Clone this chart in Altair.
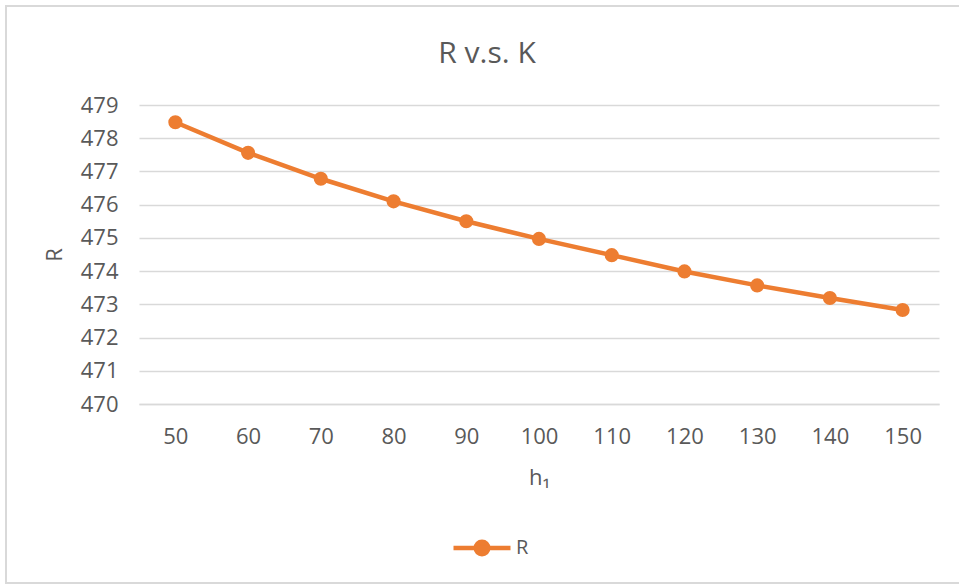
import altair as alt
import pandas as pd

h_values = [50, 60, 70, 80, 90, 100, 110, 120, 130, 140, 150]
r_values = [478.48, 477.56, 476.78, 476.10, 475.50, 474.97, 474.48, 473.99, 473.57, 473.19, 472.83]
series_name = ["R"] * len(h_values)
y_ticks = [470, 471, 472, 473, 474, 475, 476, 477, 478, 479]

df = pd.DataFrame({"h": h_values, "R": r_values, "series": series_name})

FONT = "Open Sans"
GREY = "#595959"
ORANGE = "#ED7D31"

frame = alt.Chart(pd.DataFrame({"k": [0]})).mark_rect(
    fill=None, stroke="#d9d9d9", strokeWidth=2, clip=False
).encode(
    x=alt.value(-133), x2=alt.value(824), y=alt.value(-99), y2=alt.value(478)
)

legend_symbol = "M-1,0H1M-0.22,0A0.22,0.22 0 1,1 0.22,0A0.22,0.22 0 1,1 -0.22,0Z"

line = alt.Chart(df).mark_line(
    strokeWidth=4.5,
    point=alt.OverlayMarkDef(filled=True, size=200, color=ORANGE, opacity=1),
).encode(
    x=alt.X(
        "h:O",
        scale=alt.Scale(type="point", padding=0.5),
        axis=alt.Axis(
            title="h₁",
            labelAngle=0,
            ticks=False,
            domain=True,
            domainColor="#d9d9d9",
            domainWidth=1.5,
            labelPadding=22,
            titlePadding=20,
            grid=False,
        ),
    ),
    y=alt.Y(
        "R:Q",
        scale=alt.Scale(domain=[470, 479], nice=False, zero=False),
        axis=alt.Axis(
            title="R",
            values=y_ticks,
            ticks=False,
            domain=False,
            labelPadding=21,
            titlePadding=14,
            gridColor="#d9d9d9",
            gridWidth=1.5,
        ),
    ),
    color=alt.Color(
        "series:N",
        scale=alt.Scale(range=[ORANGE]),
        legend=alt.Legend(
            title=None,
            orient="none",
            legendX=312,
            legendY=412,
            symbolType=legend_symbol,
            symbolSize=3249,
            symbolStrokeWidth=4.5,
            symbolFillColor=ORANGE,
            symbolStrokeColor=ORANGE,
            labelFontSize=20,
            labelColor=GREY,
            labelFont=FONT,
            labelOffset=3,
            padding=0,
        ),
    ),
)

chart = alt.layer(frame, line).properties(
    width=800,
    height=299,
    background="white",
    title=alt.TitleParams(
        "R v.s. K",
        fontSize=30,
        font=FONT,
        color=GREY,
        fontWeight="normal",
        anchor="middle",
        offset=-64,
        dx=-52,
    ),
    autosize=alt.AutoSizeParams(type="none"),
    padding={"left": 139, "top": 105, "right": 20, "bottom": 180},
).configure_view(stroke=None).configure_axis(
    labelFont=FONT,
    titleFont=FONT,
    labelFontSize=22,
    titleFontSize=22,
    labelColor=GREY,
    titleColor=GREY,
    titleFontWeight="normal",
)

chart.save("out.html", embed_options={"renderer": "svg", "actions": False})
